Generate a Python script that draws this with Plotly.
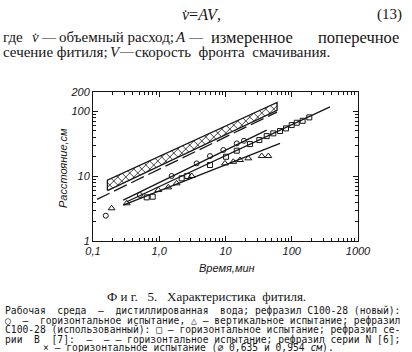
import math
import plotly.graph_objects as go

# ---------------- data ----------------
circle_t = [0.156, 0.51, 1.54, 3.67, 5.83, 9.27, 14.8, 19.0]
circle_d = [2.46, 5.13, 10.1, 15.8, 20.5, 25.4, 32.2, 35.3]
circle_fit_t = [0.286, 41.9]
circle_fit_d = [4.29, 51.6]

triangle_t = [0.191, 0.323, 0.968, 1.37, 1.83, 3.09, 9.82, 13.1, 16.6, 22.1, 35.2, 44.3]
triangle_d = [3.2, 3.82, 6.12, 6.74, 7.77, 10.1, 15.8, 16.7, 17.8, 18.9, 20.5, 20.5]
triangle_fit_t = [0.286, 66.5]
triangle_fit_d = [3.59, 32.2]

square_t = [0.647, 0.796, 2.18, 2.65, 5.83, 10.2, 14.8, 23.4, 32.4, 41.9, 52.6,
            66.5, 81.9, 99.8, 119, 146, 184]
square_d = [4.72, 4.83, 9.28, 10.1, 14.9, 20.0, 24.8, 31.4, 36.2, 41.7, 45.9,
            49.9, 54.9, 61.7, 67.0, 71.8, 81.1]
square_fit_t = [0.323, 378]
square_fit_d = [4.04, 118]

seriesB_t = [0.115, 60]
seriesB_d = [4.4, 98]

band_t = [0.165, 60]
band_lower = [6.0, 104]
band_upper = [8.7, 138]

x_tickvals = [0.1, 1, 10, 100, 1000]
x_ticktext = ["0,1", "1,0", "10", "100", "1000"]
y_tickvals = [1, 10, 100, 200]
y_ticktext = ["1", "10", "100", "200"]
x_minor = [m * d for d in (0.1, 1, 10, 100) for m in range(2, 10)]
y_minor = [m * d for d in (1, 10) for m in range(2, 10)]

caption_lines = [
    "Рабочая среда — дистиллированная вода; рефразил С100-28 (новый):",
    "○ — горизонтальное испытание, △ — вертикальное испытание; рефразил",
    "С100-28 (использованный): □ — горизонтальное испытание; рефразил се-",
    "рии В [7]: — — — горизонтальное испытание; рефразил серии N [6];",
]
caption_last = "× — горизонтальное испытание (∅ 0,635 и 0,954 <i>см</i>)."

# ---------------- geometry ----------------
W, H = 412, 352
L, R, T, B = 93, 358, 92, 241
XR = [-1, 3]
YR = [0, math.log10(200)]
SX = (R - L) / (XR[1] - XR[0])   # px per decade
SY = (B - T) / (YR[1] - YR[0])


def px(x):
    return (x - L) / (R - L)


def py(y):
    return (B - y) / (B - T)


def justify(text, n):
    words = text.split(" ")
    gaps = len(words) - 1
    extra = n - sum(len(w) for w in words)
    out = words[0]
    for i, w in enumerate(words[1:]):
        k = extra // gaps + (1 if i < extra % gaps else 0)
        out += " " * k + w
    return out


# cross-hatching of the band, built from the band edges
def hatch(spacing=8.0):
    X0, X1 = math.log10(band_t[0]) * SX, math.log10(band_t[1]) * SX
    lo = [math.log10(v) * SY for v in band_lower]
    hi = [math.log10(v) * SY for v in band_upper]
    b1 = (lo[1] - lo[0]) / (X1 - X0); a1 = lo[0] - b1 * X0
    b2 = (hi[1] - hi[0]) / (X1 - X0); a2 = hi[0] - b2 * X0
    xs, ys = [], []
    cmin, cmax = X0 + lo[0] - 200, X1 + hi[1] + 200
    c = cmin
    while c < cmax:
        # X + Y = c
        xa = max(X0, (c - a2) / (1 + b2)); xb = min(X1, (c - a1) / (1 + b1))
        if xb > xa:
            for X in (xa, xb):
                xs.append(10 ** (X / SX)); ys.append(10 ** ((c - X) / SY))
            xs.append(None); ys.append(None)
        # X - Y = c
        xa = max(X0, (a1 + c) / (1 - b1)); xb = min(X1, (a2 + c) / (1 - b2))
        if xb > xa:
            for X in (xa, xb):
                xs.append(10 ** (X / SX)); ys.append(10 ** ((X - c) / SY))
            xs.append(None); ys.append(None)
        c += spacing
    return xs, ys


fig = go.Figure()
ink = "#151515"

hx, hy = hatch(8.0)
fig.add_trace(go.Scatter(x=hx, y=hy, mode="lines", line=dict(color=ink, width=0.8),
                         showlegend=False, hoverinfo="skip"))
fig.add_trace(go.Scatter(
    x=[band_t[0], band_t[1], band_t[1], band_t[0], band_t[0]],
    y=[band_lower[0], band_lower[1], band_upper[1], band_upper[0], band_lower[0]],
    mode="lines", line=dict(color=ink, width=1.3),
    showlegend=False, hoverinfo="skip"))

# series B dashed line
fig.add_trace(go.Scatter(x=seriesB_t, y=seriesB_d, mode="lines",
                         line=dict(color=ink, width=1.3, dash="14px,5px"),
                         showlegend=False))

# fitted lines
for tx, ty in ((circle_fit_t, circle_fit_d), (triangle_fit_t, triangle_fit_d),
               (square_fit_t, square_fit_d)):
    fig.add_trace(go.Scatter(x=tx, y=ty, mode="lines",
                             line=dict(color=ink, width=1.3), showlegend=False))

fig.add_trace(go.Scatter(x=circle_t, y=circle_d, mode="markers",
                         marker=dict(symbol="circle-open", size=5, color=ink,
                                     line=dict(width=1)), showlegend=False))
fig.add_trace(go.Scatter(x=square_t, y=square_d, mode="markers",
                         marker=dict(symbol="square-open", size=5, color=ink,
                                     line=dict(width=1)), showlegend=False))
fig.add_trace(go.Scatter(x=triangle_t, y=triangle_d, mode="markers",
                         marker=dict(symbol="triangle-up-open", size=6, color=ink,
                                     line=dict(width=1)), showlegend=False))

axis_font = dict(family="Liberation Sans", size=11, color=ink, style="italic")
common = dict(type="log", showgrid=False, zeroline=False, showline=True,
              linecolor=ink, linewidth=1, mirror="ticks", ticks="inside",
              ticklen=5, tickcolor=ink, tickwidth=1, tickmode="array",
              tickfont=axis_font)

fig.update_xaxes(range=XR, tickvals=x_tickvals, ticktext=x_ticktext,
                 minor=dict(tickmode="array", tickvals=x_minor, ticks="inside",
                            ticklen=3, tickcolor=ink), **common)
fig.update_yaxes(range=YR, tickvals=y_tickvals, ticktext=y_ticktext,
                 minor=dict(tickmode="array", tickvals=y_minor, ticks="inside",
                            ticklen=3, tickcolor=ink), **common)

ann = []
serif = "Liberation Serif"


def text(x, y, s, size, anchor="left", family=serif, style="normal"):
    ann.append(dict(x=px(x), y=py(y), xref="paper", yref="paper", text=s,
                    showarrow=False, xanchor=anchor, yanchor="middle",
                    borderpad=0,
                    font=dict(family=family, size=size, color=ink, style=style)))


# body text above the figure
text(181, 14, "<i>v̇</i>=<i>AV</i>,", 16)
text(403, 14, "(13)", 15, anchor="right")
text(2, 37, "где", 15)
text(31, 37, "<i>v̇</i>", 15)
text(40, 37, "—", 14)
text(58, 37, "объемный расход;", 15)
text(174, 37, "<i>A</i>", 15)
text(187, 37, "—", 14)
text(252, 37, "измеренное", 16.5, anchor="center")
text(358, 37, "поперечное", 16.5, anchor="center")
text(2, 52, "сечение фитиля;", 15)
text(109, 52, "<i>V</i>", 15)
text(118, 52, "—", 14)
text(134, 52, "скорость  фронта  смачивания.", 15)

# axis titles
ann.append(dict(x=px(63), y=py(168), xref="paper", yref="paper",
                text="Расстояние,см", textangle=-90, showarrow=False,
                xanchor="center", yanchor="middle",
                font=dict(family="Liberation Sans", size=11, color=ink, style="italic")))
text(227, 268, "Время,мин", 11, anchor="center", family="Liberation Sans", style="italic")

# caption
text(206, 296, "Ф и г.   5.   Характеристика  фитиля.", 13, anchor="center")
mono = "DejaVu Sans Mono"
n_chars = 68
fs = 396 / (0.602 * n_chars)
ys = [310.5, 320, 329.5, 339]
for yv, line in zip(ys, caption_lines):
    text(4, yv, justify(line, n_chars).replace(" ", "\u00a0"), fs, family=mono)
text(188, 347.5, caption_last, fs, anchor="center", family=mono)

fig.update_layout(width=W, height=H, margin=dict(l=L, r=W - R, t=T, b=H - B),
                  paper_bgcolor="white", plot_bgcolor="white",
                  annotations=ann, showlegend=False)

fig.write_html("out.html")
